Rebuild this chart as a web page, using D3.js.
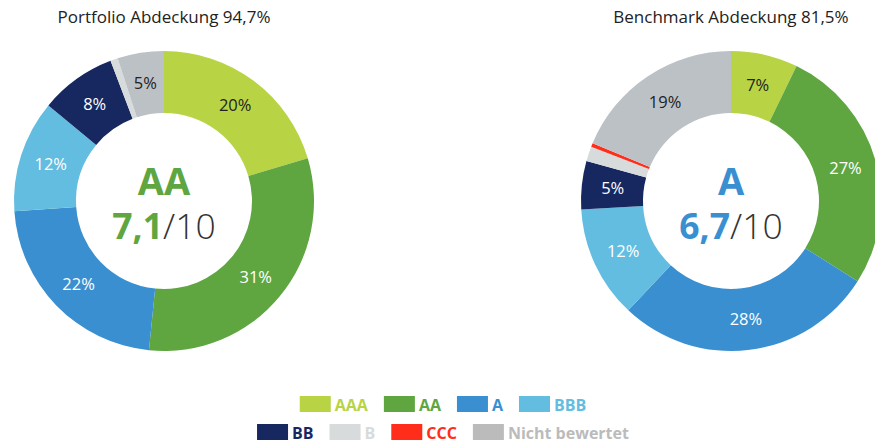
<!DOCTYPE html>
<html><head><meta charset="utf-8">
<script src="https://cdn.jsdelivr.net/npm/d3@7"></script>
<style>body{margin:0;background:#fff;overflow:hidden}svg{display:block}</style>
</head><body>
<svg id="c" width="875" height="443"></svg>
<script>
const categories = ["AAA","AA","A","BBB","BB","B","CCC","Nicht bewertet"];
const portfolioValues = [20.4, 31.2, 22.3, 12.1, 8.2, 0.8, 0, 5.0];
const benchmarkValues = [7.2, 26.8, 28.0, 12.1, 5.2, 1.6, 0.4, 18.7];
const titles = ["Portfolio Abdeckung 94,7%", "Benchmark Abdeckung 81,5%"];
const ratings = ["AA", "A"];
const scores = ["7,1", "6,7"];
const scoreMax = "/10";

const sliceColors = ["#b8d444","#5fa641","#3a8fd0","#63bde0","#172861","#d7dbdb","#ff2d1a","#bcc1c6"];
const legendColors = ["#b8d444","#5fa641","#3a8fd0","#63bde0","#172861","#d7dbdb","#ff2d1a","#bbbbbb"];
const labelDark = [true,false,false,false,false,true,false,true];
const ratingColors = ["#5fa641","#3a8fd0"];

const svg = d3.select("#c");
const font = "'Open Sans', sans-serif";
const color = d3.scaleOrdinal().domain(categories).range(sliceColors);
const pie = d3.pie().sort(null).value(d => d.v);
const outerR = 150, innerR = 88;
const arc = d3.arc().innerRadius(innerR).outerRadius(outerR);
const labelArc = d3.arc().innerRadius(119).outerRadius(119);
const centers = [[164, 201], [731, 201]];
const fmt = v => d3.format(".0f")(v) + "%";

[portfolioValues, benchmarkValues].forEach((vals, i) => {
  const data = categories.map((c, j) => ({c, v: vals[j], j}));
  const g = svg.append("g").attr("transform", `translate(${centers[i][0]},${centers[i][1]})`);
  const arcs = pie(data);
  g.selectAll("path").data(arcs).join("path")
    .attr("d", arc).attr("fill", d => color(d.data.c));
  g.selectAll("text.lbl").data(arcs.filter(d => d.data.v >= 3)).join("text")
    .attr("class","lbl")
    .attr("transform", d => `translate(${labelArc.centroid(d)})`)
    .attr("text-anchor","middle").attr("dy","0.35em")
    .attr("font-family", font).attr("font-size", 16.5).attr("font-weight", 400)
    .attr("fill", d => labelDark[d.data.j] ? "#222" : "#fff")
    .text(d => fmt(d.data.v));
  g.append("text").attr("text-anchor","middle").attr("y", -6)
    .attr("font-family", font).attr("font-size", 38).attr("font-weight", 700)
    .attr("fill", ratingColors[i]).text(ratings[i]);
  const t = g.append("text").attr("text-anchor","middle").attr("y", 38)
    .attr("font-family", font).attr("font-size", 35.5);
  t.append("tspan").attr("font-weight",700).attr("fill", ratingColors[i]).text(scores[i]);
  t.append("tspan").attr("font-weight",300).attr("fill", "#333").text(scoreMax);
  svg.append("text").attr("x", centers[i][0]).attr("y", 23).attr("text-anchor","middle")
    .attr("font-family", font).attr("font-size", 17).attr("fill","#222").text(titles[i]);
});

// legend
const rows = [[0,1,2,3],[4,5,6,7]];
const rowY = [396, 424];
rows.forEach((row, ri) => {
  const lg = svg.append("g");
  let x = 0;
  row.forEach(j => {
    const it = lg.append("g").attr("transform", `translate(${x},${rowY[ri]})`);
    it.append("rect").attr("width", 31).attr("height", 16).attr("fill", legendColors[j]);
    const tx = it.append("text").attr("x", 35).attr("y", 14.5)
      .attr("font-family", font).attr("font-size", 16).attr("font-weight", 700)
      .attr("fill", legendColors[j]).text(categories[j]);
    x += 35 + tx.node().getComputedTextLength() + 16;
  });
  const w = x - 16;
  lg.attr("transform", `translate(${443 - w/2},0)`);
});
</script>
</body></html>
